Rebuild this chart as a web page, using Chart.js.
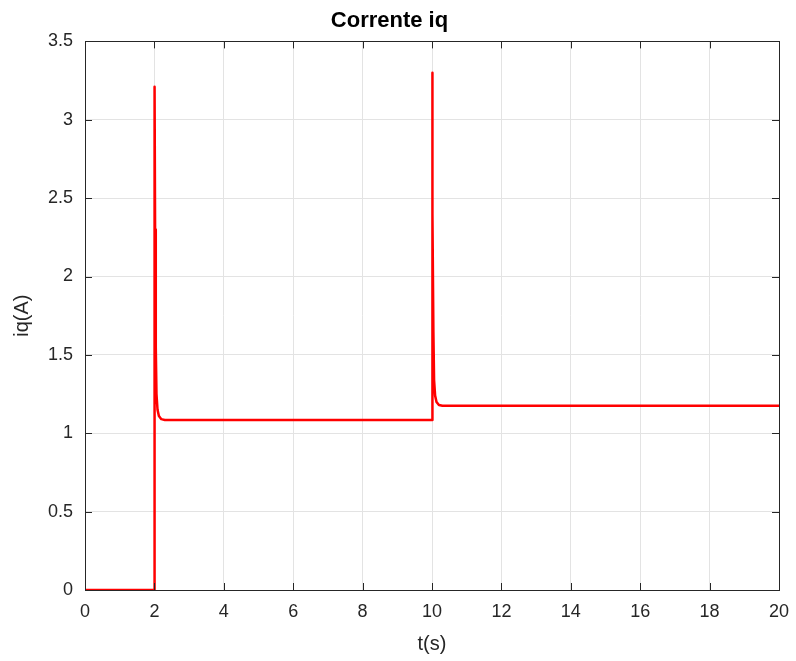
<!DOCTYPE html>
<html>
<head>
<meta charset="utf-8">
<script src="https://cdn.jsdelivr.net/npm/chart.js@4.4.0/dist/chart.umd.min.js"></script>
<style>
  body { margin: 0; background: #fff; }
  #wrap { width: 796px; height: 661px; }
</style>
</head>
<body>
<div id="wrap"><canvas id="myChart" width="796" height="661"></canvas></div>
<script>
// time (s) and current iq (A)
var tVals = [0, 2, 2.005, 2.02, 2.04, 2.06, 2.09, 2.13, 2.2, 2.3,
  10, 10.005, 10.02, 10.04, 10.06, 10.09, 10.13, 10.2, 10.3, 20];
var iqVals = [0, 0, 3.21, 2.3, 1.55, 1.25, 1.15, 1.11, 1.09, 1.085,
  1.085, 3.3, 2.4, 1.65, 1.34, 1.24, 1.2, 1.18, 1.175, 1.175];

var xTicks = [0, 2, 4, 6, 8, 10, 12, 14, 16, 18, 20];
var yTicks = [0, 0.5, 1, 1.5, 2, 2.5, 3, 3.5];

var points = tVals.map(function (t, i) {
  return { x: t, y: iqVals[i] };
});

const FONT = '"Liberation Sans", Arial, Helvetica, sans-serif';
const AXIS = '#262626';

// box round the plot and the small ticks pointing inwards
const boxTicks = {
  id: 'boxTicks',
  afterDatasetsDraw(chart) {
    const { ctx, chartArea: a, scales } = chart;
    ctx.save();
    ctx.strokeStyle = AXIS;
    ctx.lineWidth = 1;
    ctx.beginPath();
    xTicks.forEach(function (v) {
      const px = Math.round(scales.x.getPixelForValue(v)) + 0.5;
      ctx.moveTo(px, a.bottom); ctx.lineTo(px, a.bottom - 7);
      ctx.moveTo(px, a.top); ctx.lineTo(px, a.top + 7);
    });
    yTicks.forEach(function (v) {
      const py = Math.round(scales.y.getPixelForValue(v)) + 0.5;
      ctx.moveTo(a.left, py); ctx.lineTo(a.left + 7, py);
      ctx.moveTo(a.right, py); ctx.lineTo(a.right - 7, py);
    });
    ctx.stroke();
    ctx.strokeRect(Math.round(a.left) + 0.5, Math.round(a.top) + 0.5,
      Math.round(a.right - a.left), Math.round(a.bottom - a.top));
    ctx.restore();
  }
};

new Chart(document.getElementById('myChart'), {
  type: 'scatter',
  data: {
    datasets: [
      {
        label: 'iq',
        data: points,
        showLine: true,
        borderColor: '#ff0000',
        borderWidth: 2.5,
        borderJoinStyle: 'round',
        pointRadius: 0,
        tension: 0,
      },
    ],
  },
  options: {
    responsive: false,
    animation: false,
    layout: { padding: { left: 0, right: 17, top: 0, bottom: 0 } },
    plugins: {
      legend: { display: false },
      tooltip: { enabled: false },
      title: {
        display: true,
        text: 'Corrente iq',
        color: '#000',
        font: { family: FONT, size: 22, weight: 'bold' },
        padding: { top: 8, bottom: 7 },
      },
    },
    scales: {
      x: {
        type: 'linear',
        min: 0,
        max: 20,
        afterBuildTicks: function (s) { s.ticks = xTicks.map(v => ({ value: v })); },
        afterFit: function (s) {
          s.height = 71;
          s.paddingLeft = 0;
          s.paddingRight = 0;
        },
        ticks: { color: AXIS, font: { family: FONT, size: 18 }, padding: 11, maxRotation: 0 },
        grid: { color: '#e3e3e3', drawTicks: false },
        border: { color: AXIS },
        title: {
          display: true,
          text: 't(s)',
          color: AXIS,
          font: { family: FONT, size: 20 },
          padding: { top: 0, bottom: 5 },
        },
      },
      y: {
        type: 'linear',
        min: 0,
        max: 3.5,
        afterBuildTicks: function (s) { s.ticks = yTicks.map(v => ({ value: v })); },
        afterFit: function (s) { s.width = 85; },
        ticks: {
          color: AXIS,
          font: { family: FONT, size: 18 },
          padding: 12,
          callback: function (v) { return String(v); },
        },
        grid: { color: '#e3e3e3', drawTicks: false },
        border: { color: AXIS },
        title: {
          display: true,
          text: 'iq(A)',
          color: AXIS,
          font: { family: FONT, size: 20 },
          padding: { top: 10, bottom: 0 },
        },
      },
    },
  },
  plugins: [boxTicks],
});
</script>
</body>
</html>
